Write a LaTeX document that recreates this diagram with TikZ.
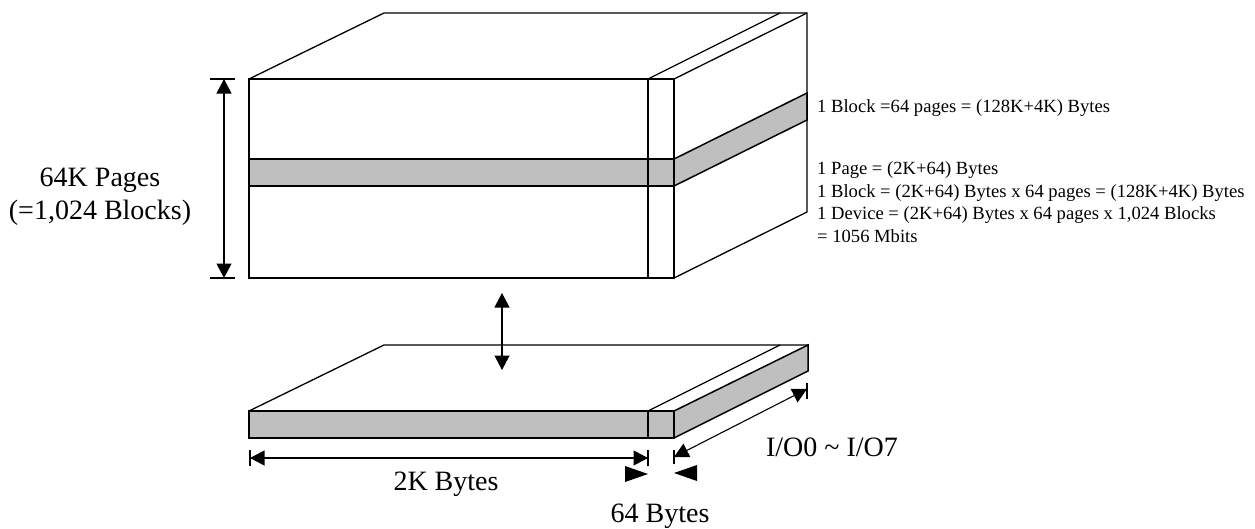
\documentclass[tikz,border=0pt]{standalone}
\usepackage{fontspec}
\setmainfont{Liberation Serif}
\usetikzlibrary{arrows.meta}
\tikzset{
  x=1pt,y=-1pt,
  edge/.style={draw=black,line width=1.3pt,line join=miter},
  band/.style={edge,fill=black!25,line width=1.5pt},
  dim/.style={draw=black,line width=1.1pt,{Triangle[length=14.5pt,width=15pt]}-{Triangle[length=14.5pt,width=15pt]}},
  tick/.style={draw=black,line width=1.1pt},
  pointer/.style={fill=black,draw=none},
  small/.style={font=\fontsize{18.6}{22}\selectfont,anchor=base west,inner sep=0pt},
  large/.style={font=\fontsize{28}{32}\selectfont,anchor=base,inner sep=0pt},
}
\begin{document}
\begin{tikzpicture}
\useasboundingbox (0,0) rectangle (1255,528);
% upper block
\coordinate (uA) at (249,79); \coordinate (uB) at (674,79); \coordinate (uC) at (674,278); \coordinate (uD) at (249,278);
\coordinate (uE) at (384,13); \coordinate (uF) at (807,13); \coordinate (uG) at (807,212);
\coordinate (uI) at (648,79); \coordinate (uJ) at (780,13); \coordinate (uK) at (648,278);
\path[band] (249,159) rectangle (674,186);
\path[band] (674,159) -- (807,93) -- (807,120) -- (674,186) -- cycle;
\path[edge] (uA) -- (uB) -- (uC) -- (uD) -- cycle;
\path[edge] (uA) -- (uE) -- (uF) -- (uG) -- (uC);
\path[edge] (uB) -- (uF);
\path[edge] (uI) -- (uK);
\path[edge] (uI) -- (uJ);
% lower block
\coordinate (lA) at (249,411); \coordinate (lB) at (674,411); \coordinate (lC) at (674,438); \coordinate (lD) at (249,438);
\coordinate (lE) at (384,345); \coordinate (lF) at (808,345); \coordinate (lG) at (808,371);
\coordinate (lI) at (648,411); \coordinate (lJ) at (780,345); \coordinate (lK) at (648,438);
\path[band] (lB) -- (lF) -- (lG) -- (lC) -- cycle;
\path[band] (lA) -- (lB) -- (lC) -- (lD) -- cycle;
\path[edge] (lA) -- (lE) -- (lF);
\path[edge] (lI) -- (lK);
\path[edge] (lI) -- (lJ);
% height dimension
\coordinate (h1) at (224,79); \coordinate (h2) at (224,278);
\draw[tick] (210,79) -- (235,79);
\draw[tick] (210,278) -- (235,278);
\draw[dim] (h1) -- (h2);
% between blocks
\coordinate (m1) at (502,293); \coordinate (m2) at (502,370);
\draw[dim] (m1) -- (m2);
% 2K dimension
\coordinate (w1) at (250,458); \coordinate (w2) at (648,458);
\draw[tick] (250,450) -- (250,466);
\draw[tick] (648,450) -- (648,466);
\draw[dim] (w1) -- (w2);
% 64 byte pointers
\fill[pointer] (648,474) -- (625,466) -- (625,482) -- cycle;
\fill[pointer] (674,473) -- (697,465) -- (697,481) -- cycle;
% I/O dimension
\coordinate (io1) at (674,457); \coordinate (io2) at (807,389);
\draw[tick] (674,450) -- (674,464);
\draw[tick] (807,383) -- (807,399);
\draw[dim] (io1) -- (io2);
% labels
\node[large] (t1) at (100,186) {64K Pages};
\node[large] (t2) at (100,219) {(=1,024 Blocks)};
\node[large] (t3) at (446,490) {2K Bytes};
\node[large] (t4) at (660,522) {64 Bytes};
\node[large] (t5) at (832,456) {I/O0 \char`\~\ I/O7};
\node[small] (s1) at (817,112) {1 Block =64 pages = (128K+4K) Bytes};
\node[small] (s2) at (817,174) {1 Page = (2K+64) Bytes};
\node[small] (s3) at (817,197) {1 Block = (2K+64) Bytes x 64 pages = (128K+4K) Bytes};
\node[small] (s4) at (817,219) {1 Device = (2K+64) Bytes x 64 pages x 1,024 Blocks};
\node[small] (s5) at (817,242) {= 1056 Mbits};
\end{tikzpicture}
\end{document}
